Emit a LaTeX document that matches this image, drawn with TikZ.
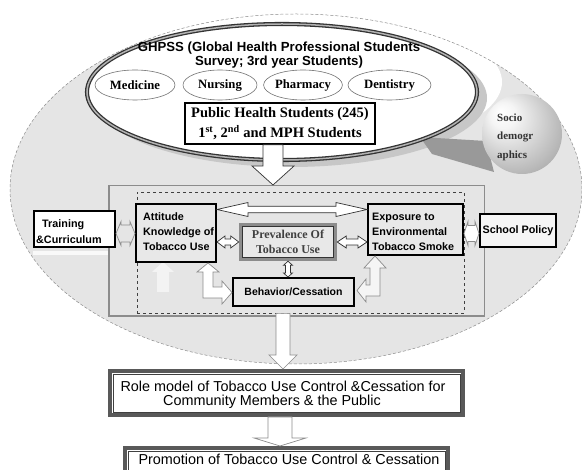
\documentclass[tikz,border=0pt]{standalone}
\usepackage{fontspec}
\setmainfont{Liberation Serif}
\newfontfamily\arialf{Liberation Sans}
\usetikzlibrary{calc,shapes.geometric}
\pgfdeclareradialshading{sphereshade}{\pgfpoint{-14bp}{14bp}}{color(0bp)=(white); color(8bp)=(black!4); color(30bp)=(black!28); color(50bp)=(black!52)}
% block arrows between named points
\newcommand\downblock[6][]{\path[#1] let \p1=(#2), \p2=(#3) in
 (\x1-#4pt,\y1) -- (\x1-#4pt,\y2+#6pt) -- (\x1-#5pt,\y2+#6pt) -- (\x1,\y2) -- (\x1+#5pt,\y2+#6pt) -- (\x1+#4pt,\y2+#6pt) -- (\x1+#4pt,\y1) -- cycle;}
\newcommand\hdbl[6][]{\path[#1] let \p1=(#2), \p2=(#3) in
 (\x1,\y1) -- (\x1+#6pt,\y1+#5pt) -- (\x1+#6pt,\y1+#4pt) -- (\x2-#6pt,\y1+#4pt) -- (\x2-#6pt,\y1+#5pt) -- (\x2,\y1) -- (\x2-#6pt,\y1-#5pt) -- (\x2-#6pt,\y1-#4pt) -- (\x1+#6pt,\y1-#4pt) -- (\x1+#6pt,\y1-#5pt) -- cycle;}
\newcommand\vdbl[6][]{\path[#1] let \p1=(#2), \p2=(#3) in
 (\x1,\y1) -- (\x1+#5pt,\y1-#6pt) -- (\x1+#4pt,\y1-#6pt) -- (\x1+#4pt,\y2+#6pt) -- (\x1+#5pt,\y2+#6pt) -- (\x1,\y2) -- (\x1-#5pt,\y2+#6pt) -- (\x1-#4pt,\y2+#6pt) -- (\x1-#4pt,\y1-#6pt) -- (\x1-#5pt,\y1-#6pt) -- cycle;}
\begin{document}
\begin{tikzpicture}[x=1pt,y=-1pt,
  bx/.style={draw=black,line width=2pt,fill=black!9,inner sep=0pt},
  lbl/.style={font=\arialf\bfseries\fontsize{10.8pt}{15pt}\selectfont,inner sep=0pt,align=left},
  oval/.style={ellipse,draw=black!55,line width=.6pt,fill=white,inner sep=0pt,font=\bfseries\fontsize{12.7pt}{14pt}\selectfont},
  arrW/.style={draw=black!80,line width=.7pt,fill=white},
  arrG/.style={draw=black!45,line width=.7pt,fill=white},
  arrN/.style={draw=black!45,line width=.7pt},
  roleb/.style={draw=black!65,line width=4pt,fill=white,inner sep=0pt},
  rtxt/.style={font=\arialf\fontsize{14.4pt}{14pt}\selectfont,inner sep=0pt,anchor=base}
]
\path[use as bounding box] (0,0) rectangle (582,470);
\clip (0,0) rectangle (582,470);

% background ellipse
\fill[black!10] (296,189) ellipse [x radius=286pt,y radius=175pt];
\begin{scope}
\clip (296,189) ellipse [x radius=286pt,y radius=175pt];
\fill[white] (302,82) ellipse [x radius=200pt,y radius=72pt];
\end{scope}
\draw[black!45,densely dashed,line width=.5pt] (296,189) ellipse [x radius=286pt,y radius=175pt];

% shadow of survey ellipse and band to sphere
\fill[black!22] (291,98) ellipse [x radius=196pt,y radius=69pt];
\fill[black!40] (420,137) -- (486,141) -- (494,172) -- (432,154) -- cycle;

% socio-demographics sphere
\shade[shading=sphereshade] (522,134) circle [radius=40pt];
\node[anchor=west,align=left,inner sep=0pt,text=black!80,font=\bfseries\fontsize{11pt}{18.5pt}\selectfont] (soc) at (497,137) {Socio\\demogr\\aphics};

% GHPSS ellipse
\fill[white] (282,92) ellipse [x radius=195pt,y radius=68pt];
\draw[black!80,line width=1.3pt,double=black!30,double distance=1.5pt] (282,92) ellipse [x radius=195pt,y radius=68pt];
\node[align=center,inner sep=0pt,font=\arialf\bfseries\fontsize{13.2pt}{14pt}\selectfont] (gh) at (279,55) {GHPSS (Global Health Professional Students\\Survey; 3rd year Students)};

\node[oval,minimum width=80pt,minimum height=30pt] (med) at (135,85) {Medicine};
\node[oval,minimum width=74pt,minimum height=30pt] (nur) at (220,85) {Nursing};
\node[oval,minimum width=74pt,minimum height=30pt] (pha) at (303,85) {Pharmacy};
\node[oval,minimum width=83pt,minimum height=30pt] (den) at (389.5,85) {Dentistry};

\node[draw=black,line width=1.8pt,fill=white,minimum width=190pt,minimum height=41pt,inner sep=0pt,align=center,font=\bfseries\fontsize{14.5pt}{20pt}\selectfont] (ph) at (280,123.5) {Public Health Students (245)\\1\textsuperscript{st}, 2\textsuperscript{nd} and MPH Students};

% frame and dashed box
\node[draw=black!45,line width=1.5pt,minimum width=375.5pt,minimum height=130.5pt,inner sep=0pt] (frm) at (296.5,251) {};
\node[draw=black!75,dashed,line width=.8pt,minimum width=327pt,minimum height=121pt,inner sep=0pt] (dsh) at (300.5,252.5) {};

\coordinate (c273) at (273,0);
\downblock[arrW]{c273 |- ph.south}{c273 |- frm.north}{10}{21}{19}

% faint white marks
\fill[white,opacity=.8] (33,251) rectangle (108,255);
\fill[white,opacity=.55] (163,262) -- (174,272) -- (169,272) -- (169,292) -- (157,292) -- (157,272) -- (152,272) -- cycle;

% boxes
\node[bx,minimum width=80pt,minimum height=58pt] (att) at (176,233) {};
\node[lbl,anchor=west] (attl) at (143,232) {Attitude\\Knowledge of\\Tobacco Use};
\node[bx,minimum width=95pt,minimum height=51pt] (exp) at (415.5,229.5) {};
\node[lbl,anchor=west] (expl) at (372,232) {Exposure to\\Environmental\\Tobacco Smoke};
\node[bx,fill=white,minimum width=81pt,minimum height=36pt] (trn) at (74.5,229) {};
\node[lbl,anchor=west,font=\arialf\bfseries\fontsize{10.8pt}{16pt}\selectfont] (trnl) at (36,232) {\hspace*{6pt}Training\\\&Curriculum};
\node[bx,fill=black!4,minimum width=76pt,minimum height=33pt,font=\arialf\bfseries\fontsize{10.8pt}{13pt}\selectfont] (sch) at (518,230.5) {School Policy};
\node[draw=black!45,line width=3.5pt,fill=black!9,minimum width=95pt,minimum height=35pt,inner sep=0pt,align=center,text=black!75,font=\bfseries\fontsize{12pt}{15pt}\selectfont] (prv) at (288,242) {Prevalence Of\\Tobacco Use};
\draw[black!80,line width=.8pt] ([shift={(4,4)}]prv.north west) rectangle ([shift={(-4,-4)}]prv.south east);
\node[bx,minimum width=121pt,minimum height=28pt,font=\arialf\bfseries\fontsize{10.5pt}{12pt}\selectfont] (beh) at (293.5,292) {Behavior/Cessation};

% connectors in the frame
\coordinate (h209) at (0,209.5);
\coordinate (h233) at (0,233.5);
\hdbl[arrW]{att.east |- h209}{exp.west |- h209}{3.2}{7}{31}
\hdbl[arrW]{att.east |- prv.center}{prv.west}{3}{6}{8}
\hdbl[arrW]{prv.east}{exp.west |- prv.center}{3}{6}{9}
\vdbl[arrW]{prv.south}{prv.south |- beh.north}{2.5}{4.5}{4}
\hdbl[arrN]{trn.east |- h233}{att.west |- h233}{8.5}{12}{5}
\hdbl[arrG]{exp.east |- h233}{sch.west |- h233}{8}{12}{4}
% L-shaped arrows
\draw[arrG] (208,263) -- (219,272) -- (213,272) -- (213,287) -- (222,287) -- (222,281) -- (232,292.5) -- (222,304) -- (222,298) -- (203,298) -- (203,272) -- (197,272) -- cycle;
\draw[arrG,fill=black!4] (375,256) -- (386,268) -- (380,268) -- (380,296) -- (366,296) -- (366,302) -- (357,290.5) -- (366,279) -- (366,285) -- (370,285) -- (370,268) -- (364,268) -- cycle;

% lower boxes
\node[roleb,minimum width=353pt,minimum height=44pt] (role) at (286.5,393) {};
\draw[black!75,line width=.8pt] ([shift={(5,5)}]role.north west) rectangle ([shift={(-5,-5)}]role.south east);
\node[rtxt] (rl1) at (283,392) {Role model of Tobacco Use Control \&Cessation for};
\node[rtxt] (rl2) at (272,405.5) {Community Members \& the Public};
\node[roleb,minimum width=323pt,minimum height=44pt] (promo) at (286.5,470) {};
\draw[black!75,line width=.8pt] ([shift={(5,5)}]promo.north west) rectangle ([shift={(-5,-5)}]promo.south east);
\node[rtxt] (pr1) at (289,465) {Promotion of Tobacco Use Control \& Cessation};

\coordinate (c283) at (283,0);
\downblock[arrG]{c283 |- dsh.south}{c283 |- role.north}{7}{14}{14}
\coordinate (c280) at (280,0);
\downblock[arrG]{c280 |- role.south}{c280 |- promo.north}{12}{26}{8}
\end{tikzpicture}
\end{document}
